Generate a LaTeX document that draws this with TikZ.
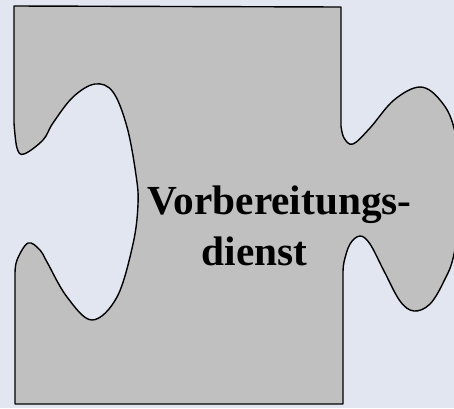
\documentclass[tikz,border=0pt]{standalone}
\usepackage{fontspec}
\setmainfont{Liberation Serif}
\definecolor{bgc}{HTML}{E1E6F1}
\definecolor{piece}{HTML}{C0C0C0}
\tikzset{
  piecestyle/.style={fill=piece, draw=black, line width=1.4pt, line join=round},
  label/.style={anchor=base west, inner sep=0pt, font=\bfseries\fontsize{41.3}{50}\selectfont}
}
\begin{document}
\begin{tikzpicture}[x=1pt,y=-1pt]
\useasboundingbox (0,0) rectangle (454,408);
\fill[bgc] (0,0) rectangle (454,408);
\begin{scope}
\clip (0,0) rectangle (454,408);
\draw[piecestyle] (14,6) -- (341,7) -- (341,124)
  -- plot[smooth, tension=0.6] coordinates {(341,126) (344,138) (353,144) (370,128) (394,100) (420,87) (440,100) (454,128) (463,190) (454,254) (444,281) (430,304) (414,311) (400,301) (384,271) (370,244) (360,236) (350,244) (344,262) (343,274)}
  -- (343,404) -- (15,404) -- (15,276)
  -- plot[smooth, tension=0.6] coordinates {(15,274) (17,260) (28,243) (40,250) (47,262) (67,297) (92,320) (117,297) (133,244) (138,204) (136,175) (127,127) (113,92) (95,84) (73,97) (53,123) (43,140) (24,154) (17,148) (14,123)}
  -- cycle;
\end{scope}
\node[label] (l1) at (147.5,214.5) {Vorbereitungs-};
\node[label] (l2) at (201.5,265) {dienst};
\end{tikzpicture}
\end{document}
